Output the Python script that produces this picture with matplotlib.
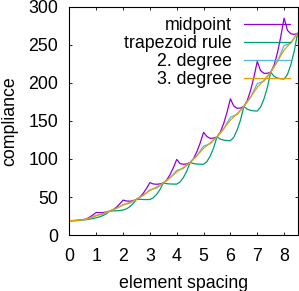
import numpy as np
import matplotlib
matplotlib.use('Agg')
from matplotlib import pyplot as plt

plt.rcParams['font.family'] = ['Liberation Sans', 'DejaVu Sans']
plt.rcParams['font.size'] = 12.8

# values
x_fine = np.arange(0, 8.5001, 0.125)
midpoint = [19, 19.1, 19.3, 19.6, 20, 21.2, 23.5, 26.4,
            29.8, 29.5, 29.6, 30.3, 31.5, 33.3, 36.6, 40.9,
            46, 44.8, 44.6, 45.3, 47, 49.8, 54.8, 61.3,
            69, 67.2, 66.8, 67.3, 68.5, 72.4, 79.4, 88.6,
            99.4, 94, 93, 93.6, 95.5, 100.4, 109.5, 121.2,
            135, 129.5, 127, 127.5, 129, 135.3, 146.7, 161.5,
            179, 169.5, 166.5, 167, 169, 176.4, 189.9, 207.4,
            228, 216, 212.5, 212.5, 214, 222.9, 239.1, 260.2,
            285, 269, 264.5, 263.5, 265]
trapezoid = [19, 19, 19.1, 19.4, 20, 20.3, 21, 21.8,
             22.8, 24, 25.7, 28, 31.5, 31.8, 32, 32.3,
             33, 34.4, 37.3, 41.4, 47, 47, 46.8, 46.7,
             46.8, 49, 53.5, 59.8, 68.5, 67.6, 67.2, 67.05,
             67, 69.9, 75.8, 84.1, 95.5, 94, 93.4, 93.1,
             93, 96.6, 104.2, 114.6, 129, 126, 124.8, 124.2,
             124, 128.5, 138, 151, 169, 165.4, 163.9, 163.2,
             163, 168.1, 178.8, 193.6, 214, 208.6, 206.4, 205.3,
             205, 211, 223.6, 241, 265]

x_coarse = np.arange(0, 8.5001, 0.25)
second = [19, 19.3, 20, 22.2, 26, 27.5, 31.5, 35, 40, 41.8, 47, 52,
          59.5, 61.8, 68.5, 75.1, 85, 87.6, 95.5, 104.1, 117, 120,
          129, 139.4, 155, 158.5, 169, 181, 199, 202, 214, 228, 249,
          252, 265]
third = [19, 19.2, 20, 22.3, 25.5, 28.3, 31.5, 35.3, 39.5, 43, 47, 52.3,
         58.5, 63.3, 68.5, 75.5, 83, 89, 95.5, 104.3, 114, 121.3,
         129, 139.8, 151, 159.5, 169, 181.3, 194, 203.5, 214, 228.3, 243,
         253, 265]

fig = plt.figure(figsize=(2.99, 2.91), dpi=100)
ax = fig.add_axes([0.232, 0.192, 0.763, 0.785])

lw = 0.9
ax.plot(x_fine, midpoint, color='#9400d3', lw=lw, label='midpoint')
ax.plot(x_fine, trapezoid, color='#009e73', lw=lw, label='trapezoid rule')
ax.plot(x_coarse, second, color='#56b4e9', lw=lw, label='2. degree')
ax.plot(x_coarse, third, color='#e69f00', lw=lw, label='3. degree')

ax.set_xlim(0, 8.5)
ax.set_ylim(0, 300)
ax.set_xticks(range(0, 9))
ax.set_yticks(range(0, 301, 50))
ax.tick_params(direction='in', length=2.5, width=0.6, top=True, right=True)
ax.tick_params(axis='x', pad=9)
ax.tick_params(axis='y', pad=8)
for s in ax.spines.values():
    s.set_linewidth(0.8)

ax.set_xlabel('element spacing')
ax.set_ylabel('compliance')
ax.xaxis.set_label_coords(0.5, -0.175)
ax.yaxis.set_label_coords(-0.225, 0.5)

ax.legend(loc='upper right', frameon=False, markerfirst=False,
          handlelength=2.6, handletextpad=0.67, labelspacing=0.06,
          borderaxespad=0.0, bbox_to_anchor=(0.998, 0.985))

fig.savefig('out.png', dpi=100)
